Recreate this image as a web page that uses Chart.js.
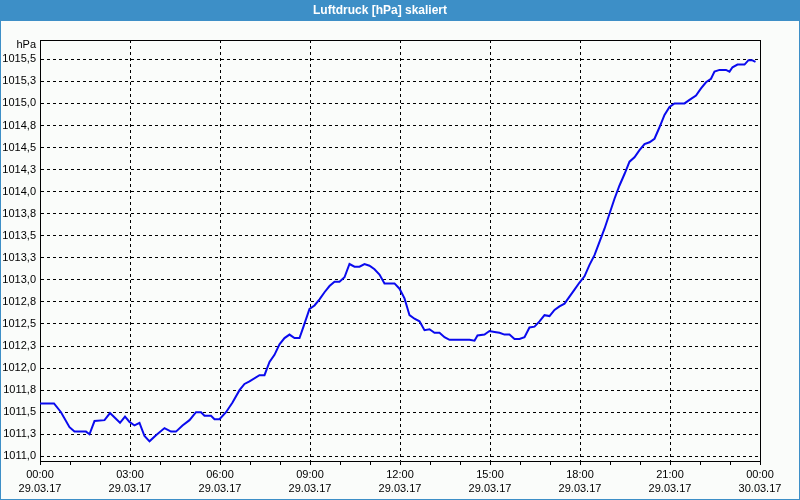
<!DOCTYPE html>
<html>
<head>
<meta charset="utf-8">
<script src="https://cdn.jsdelivr.net/npm/chart.js@4.4.1/dist/chart.umd.min.js"></script>
<style>
  html, body { margin: 0; padding: 0; background: #fafcfa; }
  canvas { display: block; }
</style>
</head>
<body>
<canvas id="druckChart" width="800" height="500"></canvas>
<script>
// Messzeiten (hh:mm am 29.03.17) und Luftdruck in hPa
const times = ['00:00', '00:28', '00:42', '00:59', '01:09', '01:32', '01:39', '01:49', '02:09', '02:20',
    '02:40', '02:50', '02:59', '03:09', '03:19', '03:29', '03:39', '03:52', '04:09', '04:22',
    '04:32', '04:45', '04:59', '05:12', '05:22', '05:29', '05:42', '05:49', '05:59', '06:12',
    '06:25', '06:39', '06:49', '06:59', '07:19', '07:29', '07:39', '07:49', '07:59', '08:09',
    '08:19', '08:29', '08:39', '08:47', '08:59', '09:09', '09:19', '09:29', '09:39', '09:49',
    '09:59', '10:09', '10:19', '10:29', '10:39', '10:49', '10:59', '11:09', '11:19', '11:29',
    '11:49', '11:59', '12:09', '12:19', '12:29', '12:39', '12:49', '12:59', '13:09', '13:19',
    '13:29', '13:39', '14:13', '14:19', '14:29', '14:35', '14:49', '14:59', '15:09', '15:19',
    '15:29', '15:39', '15:49', '15:59', '16:09', '16:19', '16:29', '16:39', '16:49', '16:59',
    '17:09', '17:19', '17:29', '17:39', '17:49', '17:59', '18:09', '18:19', '18:29', '18:39',
    '18:49', '18:59', '19:09', '19:19', '19:29', '19:39', '19:49', '19:59', '20:09', '20:19',
    '20:29', '20:39', '20:49', '20:59', '21:09', '21:29', '21:39', '21:52', '22:02', '22:12',
    '22:22', '22:29', '22:39', '22:52', '22:59', '23:05', '23:15', '23:29', '23:37', '23:44',
    '23:51'];
const pressure = [1011.60, 1011.60, 1011.50, 1011.33, 1011.28, 1011.28, 1011.25, 1011.40, 1011.41, 1011.49,
    1011.38, 1011.45, 1011.39, 1011.35, 1011.38, 1011.23, 1011.17, 1011.24, 1011.32, 1011.28,
    1011.28, 1011.35, 1011.41, 1011.50, 1011.50, 1011.46, 1011.46, 1011.42, 1011.42, 1011.50,
    1011.61, 1011.75, 1011.82, 1011.85, 1011.92, 1011.92, 1012.07, 1012.15, 1012.27, 1012.34,
    1012.38, 1012.34, 1012.34, 1012.47, 1012.67, 1012.71, 1012.78, 1012.86, 1012.93, 1012.98,
    1012.98, 1013.03, 1013.18, 1013.15, 1013.15, 1013.18, 1013.16, 1013.12, 1013.06, 1012.96,
    1012.96, 1012.90, 1012.79, 1012.60, 1012.56, 1012.53, 1012.43, 1012.44, 1012.40, 1012.40,
    1012.35, 1012.32, 1012.32, 1012.32, 1012.31, 1012.37, 1012.38, 1012.42, 1012.41, 1012.40,
    1012.38, 1012.38, 1012.33, 1012.33, 1012.35, 1012.46, 1012.47, 1012.53, 1012.60, 1012.59,
    1012.66, 1012.70, 1012.73, 1012.81, 1012.89, 1012.97, 1013.04, 1013.17, 1013.28, 1013.43,
    1013.58, 1013.75, 1013.92, 1014.07, 1014.20, 1014.34, 1014.39, 1014.47, 1014.54, 1014.56,
    1014.60, 1014.73, 1014.87, 1014.96, 1015.00, 1015.00, 1015.04, 1015.09, 1015.17, 1015.24,
    1015.28, 1015.36, 1015.38, 1015.38, 1015.36, 1015.41, 1015.44, 1015.44, 1015.49, 1015.49,
    1015.47];

// Achsenbeschriftung
const yTicks = [1011.0, 1011.25, 1011.5, 1011.75, 1012.0, 1012.25, 1012.5, 1012.75, 1013.0, 1013.25,
    1013.5, 1013.75, 1014.0, 1014.25, 1014.5, 1014.75, 1015.0, 1015.25, 1015.5];
const xTickHours = [0, 3, 6, 9, 12, 15, 18, 21, 24];
const xTickTimes = ['00:00', '03:00', '06:00', '09:00', '12:00', '15:00', '18:00', '21:00', '00:00'];
const xTickDates = ['29.03.17', '29.03.17', '29.03.17', '29.03.17', '29.03.17', '29.03.17', '29.03.17', '29.03.17', '30.03.17'];

const toHours = (t) => {
    const [h, m] = t.split(':').map(Number);
    return h + m / 60;
};
const points = times.map((t, i) => ({ x: toHours(t), y: pressure[i] }));

Chart.defaults.font.family = "'Liberation Sans', Arial, sans-serif";
Chart.defaults.font.size = 11;
Chart.defaults.color = '#000';

// Hintergrund, Titelleiste und Rahmen
const frame = {
    id: 'frame',
    beforeDraw: (chart) => {
        const c = chart.ctx;
        c.save();
        c.fillStyle = '#fafcfa';
        c.fillRect(0, 0, chart.width, chart.height);
        c.fillStyle = '#3d8fc7';
        c.fillRect(0, 0, chart.width, 21);
        c.fillRect(0, 0, 1, chart.height);
        c.fillRect(chart.width - 1, 0, 1, chart.height);
        c.fillRect(0, chart.height - 1, chart.width, 1);
        c.restore();
    },
    afterDraw: (chart) => {
        const c = chart.ctx;
        const a = chart.chartArea;
        c.save();
        c.strokeStyle = '#000';
        c.lineWidth = 1;
        c.beginPath();
        c.moveTo(a.left, a.top + 0.5);
        c.lineTo(a.right + 0.5, a.top + 0.5);
        c.lineTo(a.right + 0.5, a.bottom);
        c.stroke();
        c.fillStyle = '#000';
        c.font = "11px 'Liberation Sans', Arial, sans-serif";
        c.textAlign = 'right';
        c.textBaseline = 'middle';
        c.fillText('hPa', a.left - 4, 45);
        c.restore();
    }
};

new Chart(document.getElementById('druckChart'), {
    type: 'line',
    data: {
        datasets: [{
            data: points,
            borderColor: '#0a0aee',
            borderWidth: 2,
            pointRadius: 0,
            tension: 0,
            fill: false
        }]
    },
    options: {
        responsive: false,
        animation: false,
        layout: { padding: { left: 0, right: 40, top: 0, bottom: 0 } },
        plugins: {
            legend: { display: false },
            tooltip: { enabled: false },
            title: {
                display: true,
                text: 'Luftdruck [hPa] skaliert',
                color: '#fff',
                font: { family: "'Liberation Sans Narrow', 'Liberation Sans', sans-serif", size: 12, weight: 'bold' },
                padding: { top: 3, bottom: 22.6 }
            }
        },
        scales: {
            x: {
                type: 'linear',
                min: 0,
                max: 24,
                afterFit: (s) => { s.height = 39; },
                afterBuildTicks: (s) => {
                    const t = [];
                    for (let h = 0; h <= 24; h++) t.push({ value: h });
                    s.ticks = t;
                },
                ticks: {
                    autoSkip: false,
                    maxRotation: 0,
                    padding: 3,
                    font: { lineHeight: 14 / 11 },
                    callback: (v) => {
                        const i = xTickHours.indexOf(v);
                        return i >= 0 ? [xTickTimes[i], xTickDates[i]] : '';
                    }
                },
                grid: {
                    color: (ctx) => (ctx.tick && ctx.tick.value % 3 === 0 ? '#000' : 'rgba(0,0,0,0)'),
                    tickColor: '#000',
                    tickLength: 4,
                    lineWidth: 1
                },
                border: { color: '#000', width: 1, dash: [3, 3] }
            },
            y: {
                min: 1010.947,
                max: 1015.719,
                afterFit: (s) => { s.width = 40; },
                afterBuildTicks: (s) => { s.ticks = yTicks.map(v => ({ value: v })); },
                ticks: {
                    padding: 4,
                    callback: (v) => v.toFixed(1).replace('.', ',')
                },
                grid: {
                    color: '#000',
                    drawTicks: false,
                    lineWidth: 1
                },
                border: { color: '#000', width: 1, dash: [3, 3] }
            }
        }
    },
    plugins: [frame]
});
</script>
</body>
</html>
